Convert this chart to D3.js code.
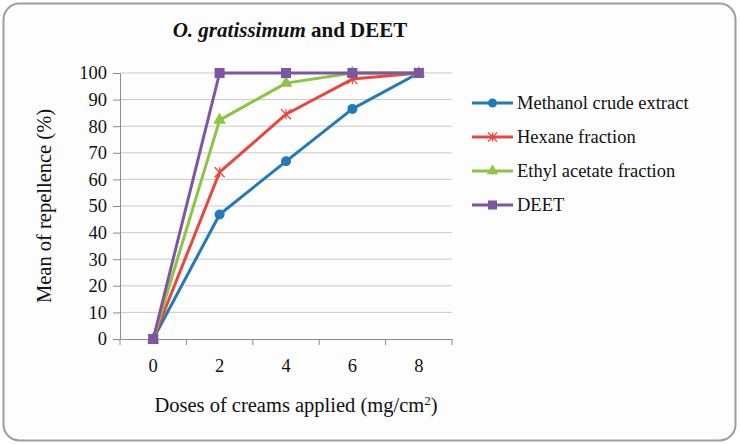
<!DOCTYPE html>
<html><head><meta charset="utf-8">
<script src="https://cdn.jsdelivr.net/npm/d3@7"></script>
</head><body style="margin:0">
<svg id="c" width="740" height="444"></svg>
<script>
const categories = ["0","2","4","6","8"];
const seriesNames = ["Methanol crude extract","Hexane fraction","Ethyl acetate fraction","DEET"];
const methanol = [0, 46.8, 66.8, 86.5, 100];
const hexane = [0, 62.7, 84.5, 97.7, 100];
const ethyl = [0, 82.3, 96.2, 100, 100];
const deet = [0, 100, 100, 100, 100];
const yTicks = [0,10,20,30,40,50,60,70,80,90,100];
const colors = ["#2479b8","#e8473d","#8cc443","#7d55a0"];
const markers = ["circle","asterisk","triangle","square"];
const seriesValues = [methanol, hexane, ethyl, deet];

const svg = d3.select("#c");
const FF = '"Times New Roman", Tinos, "Liberation Serif", serif';
function serif(sel){ sel.each(function(){ this.style.setProperty("font-family", FF, "important"); }); return sel; }

svg.append("rect").attr("x",3.5).attr("y",3.5).attr("width",732).attr("height",437)
  .attr("rx",16).attr("fill","#fdfdfd").attr("stroke","#a19d9b").attr("stroke-width",2);

const pLeft=120, pRight=452, pTop=73, pBottom=339;
const x = d3.scaleBand().domain(categories).range([pLeft,pRight]);
const y = d3.scaleLinear().domain([0,100]).range([pBottom,pTop]);

svg.append("g").selectAll("line").data(yTicks.slice(1)).join("line")
  .attr("x1",pLeft).attr("x2",pRight).attr("y1",d=>y(d)).attr("y2",d=>y(d))
  .attr("stroke","#c9c9c9").attr("stroke-width",1);

const ya = svg.append("g").attr("transform",`translate(${pLeft},0)`)
  .call(d3.axisLeft(y).tickValues(yTicks).tickSize(7).tickPadding(6));
ya.attr("font-family",FF);
ya.select(".domain").attr("stroke","#8c8c8c");
ya.selectAll(".tick line").attr("stroke","#8c8c8c");
serif(ya.selectAll("text")).attr("font-size",18.5).attr("fill","#111");

const xa = svg.append("g").attr("transform",`translate(0,${pBottom})`)
  .call(d3.axisBottom(x).tickSize(0).tickPadding(20));
xa.attr("font-family",FF);
xa.select(".domain").attr("stroke","#8c8c8c");
serif(xa.selectAll("text")).attr("font-size",18.5).attr("fill","#111");
const bounds = categories.map(c=>x(c)).concat([pRight]);
svg.append("g").selectAll("line").data(bounds).join("line")
  .attr("x1",d=>d).attr("x2",d=>d).attr("y1",pBottom).attr("y2",pBottom+6)
  .attr("stroke","#8c8c8c");

serif(svg.append("text").attr("transform",`translate(51,206) rotate(-90)`).attr("text-anchor","middle"))
  .attr("font-size",20.5).attr("fill","#111").text("Mean of repellence (%)");
const xt = serif(svg.append("text").attr("x",296).attr("y",412).attr("text-anchor","middle"))
  .attr("font-size",20.5).attr("fill","#111");
xt.append("tspan").text("Doses of creams applied (mg/cm");
xt.append("tspan").attr("dy",-7).attr("font-size",13).text("2");
xt.append("tspan").attr("dy",7).text(")");

const tt = serif(svg.append("text").attr("x",290).attr("y",37).attr("text-anchor","middle"))
  .attr("font-size",21).attr("font-weight","bold").attr("fill","#111");
tt.append("tspan").attr("font-style","italic").text("O. gratissimum");
tt.append("tspan").text(" and DEET");

function drawMarker(g, type, cx, cy, color, s) {
  if (type==="circle") g.append("circle").attr("cx",cx).attr("cy",cy).attr("r",5*s).attr("fill",color);
  else if (type==="square") g.append("rect").attr("x",cx-5*s).attr("y",cy-5*s).attr("width",10*s).attr("height",10*s).attr("fill",color);
  else if (type==="triangle") g.append("path").attr("d",d3.symbol(d3.symbolTriangle,70*s*s)()).attr("transform",`translate(${cx},${cy})`).attr("fill",color);
  else {
    const r=5*s;
    [[-r,-r,r,r],[-r,r,r,-r],[0,-r,0,r]].forEach(a=>g.append("line")
      .attr("x1",cx+a[0]).attr("y1",cy+a[1]).attr("x2",cx+a[2]).attr("y2",cy+a[3])
      .attr("stroke",color).attr("stroke-width",1.3));
  }
}

const line = d3.line().x((d,i)=>x(categories[i])+x.bandwidth()/2).y(d=>y(d));
seriesValues.forEach((vals,k)=>{
  const g = svg.append("g");
  g.append("path").datum(vals).attr("d",line).attr("fill","none")
    .attr("stroke",colors[k]).attr("stroke-width",3).attr("stroke-linejoin","round");
  vals.forEach((v,i)=>drawMarker(g, markers[k], x(categories[i])+x.bandwidth()/2, y(v), colors[k], 1));
});

const legY = [103,137,171,205];
seriesNames.forEach((n,k)=>{
  const g = svg.append("g");
  g.append("line").attr("x1",472).attr("x2",513).attr("y1",legY[k]).attr("y2",legY[k])
    .attr("stroke",colors[k]).attr("stroke-width",3);
  drawMarker(g, markers[k], 492.5, legY[k], colors[k], 0.9);
  serif(g.append("text").attr("x",517).attr("y",legY[k]+6)).attr("font-size",18.5)
    .attr("fill","#111").text(n);
});
</script>
</body></html>
